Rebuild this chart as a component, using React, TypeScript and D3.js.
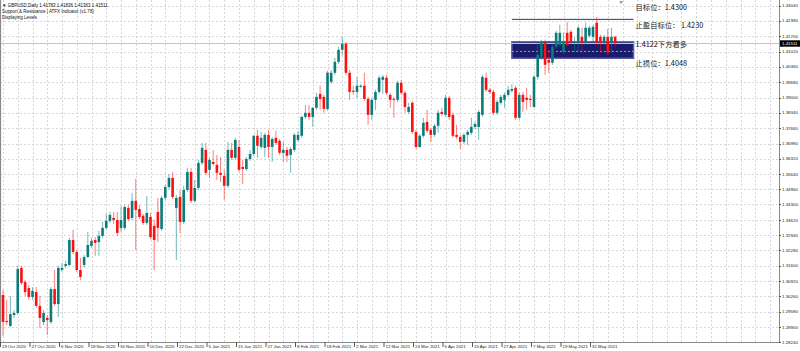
import React, { useRef, useEffect } from "react";
import * as d3 from "d3";

// GBPUSD daily candles (oldest first)
const opens = [
  1.3032, 1.2918, 1.2896, 1.2944, 1.2953, 1.3151, 1.3089, 1.3063, 1.3023, 1.3045,
  1.2984, 1.2913, 1.2931, 1.2913, 1.3058, 1.2992, 1.3142, 1.3160, 1.3164, 1.3274,
  1.3221, 1.3142, 1.3164, 1.3199, 1.3248, 1.3274, 1.3265, 1.3292, 1.3327, 1.3358,
  1.3371, 1.3362, 1.3327, 1.3327, 1.3415, 1.3371, 1.3446, 1.3410, 1.3380, 1.3349,
  1.3375, 1.3336, 1.3397, 1.3322, 1.3459, 1.3507, 1.3547, 1.3415, 1.3463, 1.3353,
  1.3494, 1.3573, 1.3446, 1.3503, 1.3613, 1.3670, 1.3582, 1.3617, 1.3604, 1.3569,
  1.3556, 1.3512, 1.3670, 1.3635, 1.3683, 1.3595, 1.3586, 1.3630, 1.3652, 1.3732,
  1.3683, 1.3679, 1.3736, 1.3683, 1.3723, 1.3710, 1.3657, 1.3670, 1.3648, 1.3670,
  1.3714, 1.3732, 1.3815, 1.3833, 1.3815, 1.3855, 1.3916, 1.3903, 1.3850, 1.3969,
  1.4009, 1.4057, 1.4110, 1.4136, 1.4009, 1.3930, 1.3925, 1.3947, 1.3952, 1.3894,
  1.3824, 1.3890, 1.3925, 1.3978, 1.3987, 1.3912, 1.3894, 1.3890, 1.3965, 1.3921,
  1.3837, 1.3877, 1.3749, 1.3683, 1.3732, 1.3793, 1.3758, 1.3736, 1.3776, 1.3837,
  1.3824, 1.3899, 1.3824, 1.3736, 1.3727, 1.3705, 1.3736, 1.3745, 1.3771, 1.3771,
  1.3824, 1.3987, 1.3934, 1.3925, 1.3833, 1.3877, 1.3890, 1.3912, 1.3930, 1.3943,
  1.3811, 1.3912, 1.3899, 1.3894, 1.3859, 1.3991, 1.4079, 1.4141, 1.4066, 1.4053,
  1.4123, 1.4132, 1.4101, 1.4185, 1.4189, 1.4141, 1.4141, 1.4167, 1.4141, 1.4172,
  1.4167, 1.4229, 1.4167, 1.4141, 1.4167, 1.4141, 1.4167,
];
const highs = [
  1.3054, 1.3010, 1.3028, 1.2966, 1.3160, 1.3160, 1.3098, 1.3076, 1.3067, 1.3067,
  1.3028, 1.2966, 1.2944, 1.3067, 1.3142, 1.3160, 1.3173, 1.3182, 1.3283, 1.3318,
  1.3230, 1.3195, 1.3208, 1.3309, 1.3283, 1.3287, 1.3314, 1.3353, 1.3388, 1.3397,
  1.3397, 1.3397, 1.3424, 1.3428, 1.3428, 1.3481, 1.3542, 1.3428, 1.3388, 1.3468,
  1.3393, 1.3362, 1.3459, 1.3468, 1.3516, 1.3564, 1.3573, 1.3472, 1.3494, 1.3512,
  1.3591, 1.3591, 1.3538, 1.3626, 1.3701, 1.3701, 1.3635, 1.3670, 1.3648, 1.3639,
  1.3582, 1.3705, 1.3701, 1.3723, 1.3714, 1.3626, 1.3639, 1.3670, 1.3736, 1.3758,
  1.3749, 1.3745, 1.3758, 1.3727, 1.3754, 1.3718, 1.3705, 1.3683, 1.3683, 1.3745,
  1.3754, 1.3820, 1.3868, 1.3868, 1.3859, 1.3921, 1.3952, 1.3912, 1.4018, 1.4022,
  1.4075, 1.4123, 1.4167, 1.4145, 1.4022, 1.3952, 1.3991, 1.3960, 1.4009, 1.3903,
  1.3899, 1.3934, 1.3996, 1.4000, 1.4000, 1.3921, 1.3903, 1.3974, 1.3978, 1.3930,
  1.3877, 1.3886, 1.3758, 1.3740, 1.3811, 1.3846, 1.3767, 1.3784, 1.3846, 1.3855,
  1.3912, 1.3908, 1.3833, 1.3780, 1.3736, 1.3745, 1.3758, 1.3811, 1.3793, 1.3846,
  1.4000, 1.4009, 1.3943, 1.3934, 1.3890, 1.3912, 1.3921, 1.3952, 1.3960, 1.3952,
  1.3921, 1.3925, 1.3943, 1.3912, 1.4000, 1.4141, 1.4154, 1.4154, 1.4110, 1.4132,
  1.4194, 1.4220, 1.4185, 1.4233, 1.4198, 1.4167, 1.4216, 1.4207, 1.4229, 1.4216,
  1.4220, 1.4255, 1.4176, 1.4176, 1.4202, 1.4207, 1.4172,
];
const lows = [
  1.2852, 1.2900, 1.2891, 1.2931, 1.2944, 1.3076, 1.3028, 1.3010, 1.3010, 1.2975,
  1.2887, 1.2900, 1.2856, 1.2904, 1.2984, 1.2935, 1.3133, 1.3151, 1.3160, 1.3212,
  1.3133, 1.3098, 1.3151, 1.3195, 1.3239, 1.3204, 1.3204, 1.3283, 1.3322, 1.3349,
  1.3344, 1.3292, 1.3309, 1.3318, 1.3358, 1.3362, 1.3230, 1.3366, 1.3340, 1.3340,
  1.3278, 1.3142, 1.3265, 1.3314, 1.3450, 1.3498, 1.3454, 1.3186, 1.3305, 1.3344,
  1.3485, 1.3437, 1.3437, 1.3494, 1.3604, 1.3560, 1.3547, 1.3600, 1.3538, 1.3529,
  1.3450, 1.3503, 1.3626, 1.3626, 1.3573, 1.3520, 1.3578, 1.3622, 1.3644, 1.3635,
  1.3674, 1.3639, 1.3635, 1.3617, 1.3692, 1.3648, 1.3617, 1.3617, 1.3569, 1.3661,
  1.3705, 1.3723, 1.3806, 1.3802, 1.3771, 1.3846, 1.3846, 1.3833, 1.3842, 1.3960,
  1.4000, 1.4048, 1.4084, 1.4000, 1.3890, 1.3912, 1.3899, 1.3943, 1.3886, 1.3780,
  1.3802, 1.3846, 1.3916, 1.3916, 1.3912, 1.3855, 1.3811, 1.3881, 1.3912, 1.3833,
  1.3828, 1.3740, 1.3674, 1.3679, 1.3723, 1.3745, 1.3705, 1.3727, 1.3745, 1.3820,
  1.3815, 1.3802, 1.3723, 1.3718, 1.3674, 1.3696, 1.3692, 1.3736, 1.3762, 1.3714,
  1.3815, 1.3925, 1.3916, 1.3824, 1.3824, 1.3868, 1.3855, 1.3903, 1.3921, 1.3802,
  1.3802, 1.3837, 1.3846, 1.3859, 1.3855, 1.3978, 1.4066, 1.4000, 1.4009, 1.4044,
  1.4114, 1.4123, 1.4092, 1.4123, 1.4136, 1.4097, 1.4101, 1.4097, 1.4132, 1.4163,
  1.4141, 1.4132, 1.4097, 1.4132, 1.4088, 1.4097, 1.4123,
];
const closes = [
  1.2913, 1.2913, 1.2948, 1.2953, 1.3146, 1.3085, 1.3045, 1.3023, 1.3050, 1.2984,
  1.2931, 1.2953, 1.2922, 1.3058, 1.2992, 1.3151, 1.3151, 1.3168, 1.3274, 1.3221,
  1.3142, 1.3111, 1.3199, 1.3252, 1.3270, 1.3261, 1.3292, 1.3327, 1.3358, 1.3384,
  1.3362, 1.3305, 1.3362, 1.3419, 1.3366, 1.3446, 1.3406, 1.3375, 1.3349, 1.3393,
  1.3287, 1.3274, 1.3327, 1.3459, 1.3507, 1.3547, 1.3463, 1.3459, 1.3353, 1.3494,
  1.3573, 1.3446, 1.3503, 1.3613, 1.3679, 1.3569, 1.3626, 1.3608, 1.3569, 1.3560,
  1.3512, 1.3670, 1.3635, 1.3714, 1.3582, 1.3586, 1.3630, 1.3652, 1.3732, 1.3688,
  1.3723, 1.3736, 1.3683, 1.3718, 1.3701, 1.3657, 1.3670, 1.3644, 1.3674, 1.3736,
  1.3736, 1.3815, 1.3833, 1.3815, 1.3855, 1.3903, 1.3894, 1.3850, 1.4009, 1.4009,
  1.4057, 1.4110, 1.4136, 1.4009, 1.3925, 1.3925, 1.3952, 1.3952, 1.3894, 1.3824,
  1.3890, 1.3925, 1.3987, 1.3991, 1.3921, 1.3890, 1.3890, 1.3965, 1.3921, 1.3859,
  1.3859, 1.3749, 1.3683, 1.3732, 1.3789, 1.3754, 1.3736, 1.3776, 1.3833, 1.3828,
  1.3899, 1.3815, 1.3732, 1.3727, 1.3705, 1.3736, 1.3749, 1.3771, 1.3784, 1.3837,
  1.3991, 1.3934, 1.3925, 1.3833, 1.3881, 1.3903, 1.3912, 1.3934, 1.3938, 1.3811,
  1.3912, 1.3881, 1.3890, 1.3890, 1.3991, 1.4088, 1.4145, 1.4044, 1.4053, 1.4123,
  1.4185, 1.4185, 1.4145, 1.4132, 1.4145, 1.4145, 1.4207, 1.4141, 1.4207, 1.4207,
  1.4211, 1.4141, 1.4141, 1.4167, 1.4097, 1.4167, 1.4139,
];

// bottom axis: bar index of each date label
const dateBars = [0, 8, 16, 24, 32, 40, 48, 56, 64, 72, 80, 88, 96, 104, 112, 120, 128, 136, 144, 152, 160];
const dateLabels = [
  "19 Oct 2020", "27 Oct 2020", "6 Nov 2020", "18 Nov 2020", "30 Nov 2020", "10 Dec 2020",
  "22 Dec 2020", "5 Jan 2021", "15 Jan 2021", "27 Jan 2021", "8 Feb 2021", "18 Feb 2021",
  "2 Mar 2021", "12 Mar 2021", "24 Mar 2021", "5 Apr 2021", "15 Apr 2021", "27 Apr 2021",
  "7 May 2021", "19 May 2021", "31 May 2021",
];

// right axis price labels
const priceTicks = [
  1.2824, 1.289, 1.2958, 1.3026, 1.3092, 1.316, 1.3228, 1.3294, 1.3362, 1.343, 1.3496, 1.3564,
  1.3632, 1.3698, 1.3766, 1.3834, 1.39, 1.3968, 1.4036, 1.4102, 1.417, 1.4238, 1.4304,
];

const headerLines = [
  "▼ GBPUSD,Daily  1.41783 1.41836 1.41363 1.41511",
  "Support & Resistance | ATFX Indicator (v1.78)",
  "Displaying Levels",
];
const bidText = "1.41511";

// user drawn levels
const levelStartBar = 138;
const levelEndBar = 171;
const targetLevel = 1.4244;
const zoneTop = 1.4145;
const zoneMid = 1.4103;
const zoneBottom = 1.4073;
const levelTexts = ["目标位：", "止盈目标位： ", "下方看多", "止损位："];
const levelValues = ["1.4300", "1.4230", "1.4122", "1.4048"];

function App() {
  const svgRef = useRef(null);
  const width = 800;
  const height = 351;
  const plotRight = 779;
  const plotBottom = 342;

  useEffect(() => {
    const svg = d3.select(svgRef.current);
    svg.selectAll("*").remove();

    const x = d3.scaleLinear().domain([0, 160]).range([3, 593]);
    const y = d3.scaleLinear().domain([1.2824, 1.4304]).range([342.3, 5.7]);
    const font = "'Liberation Sans', Arial, sans-serif";
    const teal = "#0a7d7b";
    const red = "#ff1010";

    svg.append("rect").attr("width", width).attr("height", height).attr("fill", "#fff");

    // grid
    const grid = svg.append("g").attr("stroke", "#d6d6d6").attr("stroke-dasharray", "2,2");
    const vBars = d3.range(0, 211, 4).filter(i => x(i) < plotRight);
    grid.selectAll("line.v").data(vBars).join("line")
      .attr("x1", d => Math.round(x(d)) + 0.5).attr("x2", d => Math.round(x(d)) + 0.5)
      .attr("y1", 0).attr("y2", plotBottom);
    grid.selectAll("line.h").data(priceTicks).join("line")
      .attr("x1", 0).attr("x2", plotRight)
      .attr("y1", d => Math.round(y(d)) + 0.5).attr("y2", d => Math.round(y(d)) + 0.5);

    // levels drawn on the chart (behind candles)
    const lv = svg.append("g");
    lv.append("rect")
      .attr("x", x(levelStartBar)).attr("width", x(levelEndBar) - x(levelStartBar))
      .attr("y", y(zoneTop)).attr("height", y(zoneBottom) - y(zoneTop))
      .attr("fill", "#1b1b6b").attr("stroke", "#5b5ba8").attr("stroke-width", 1.5);
    lv.append("line")
      .attr("x1", x(levelStartBar)).attr("x2", x(levelEndBar))
      .attr("y1", y(zoneMid)).attr("y2", y(zoneMid))
      .attr("stroke", "#9a9ad6").attr("stroke-dasharray", "2,2");
    lv.append("line")
      .attr("x1", x(levelStartBar)).attr("x2", x(levelEndBar))
      .attr("y1", y(targetLevel)).attr("y2", y(targetLevel))
      .attr("stroke", "#2b3478").attr("stroke-width", 1);

    // bid line
    const last = closes.length - 1;
    const bidY = Math.round(y(closes[last])) + 0.5;
    svg.append("line").attr("x1", 0).attr("x2", plotRight).attr("y1", bidY).attr("y2", bidY)
      .attr("stroke", "#c4c4c4");

    // candles
    const bars = d3.range(closes.length);
    const cg = svg.append("g");
    cg.selectAll("line").data(bars).join("line")
      .attr("x1", i => x(i)).attr("x2", i => x(i))
      .attr("y1", i => y(highs[i])).attr("y2", i => y(lows[i]))
      .attr("stroke", i => (closes[i] >= opens[i] ? teal : red))
      .attr("stroke-opacity", 0.55).attr("stroke-width", 1);
    cg.selectAll("rect").data(bars).join("rect")
      .attr("x", i => x(i) - 1.3).attr("width", 2.6)
      .attr("y", i => y(Math.max(opens[i], closes[i])))
      .attr("height", i => Math.max(1, Math.abs(y(opens[i]) - y(closes[i]))))
      .attr("fill", i => (closes[i] >= opens[i] ? teal : red));

    // level texts
    const tx = x(levelEndBar) + 2;
    const texts = svg.append("g").attr("font-family", "'Noto Sans CJK SC', sans-serif")
      .attr("font-size", 7.3).attr("fill", "#222");
    const tys = [y(targetLevel) - 9, y(targetLevel) + 8.5, y(zoneTop) + 5.5, y(zoneBottom) + 8];
    levelTexts.forEach((t, k) => {
      const el = texts.append("text").attr("x", tx).attr("y", tys[k]);
      if (k === 2) {
        el.append("tspan").attr("fill", "#111").text(levelValues[k]);
        el.append("tspan").text(t);
      } else {
        el.append("tspan").text(t);
        el.append("tspan").attr("fill", "#111").text(levelValues[k]);
      }
    });

    // frame
    svg.append("line").attr("x1", 0.5).attr("x2", 0.5).attr("y1", 0).attr("y2", plotBottom)
      .attr("stroke", "#8a8a8a").attr("stroke-width", 1.2);
    svg.append("line").attr("x1", plotRight + 0.5).attr("x2", plotRight + 0.5).attr("y1", 0).attr("y2", plotBottom + 1)
      .attr("stroke", "#8a8a8a");
    svg.append("line").attr("x1", 0).attr("x2", plotRight).attr("y1", plotBottom + 0.5).attr("y2", plotBottom + 0.5)
      .attr("stroke", "#8a8a8a");

    // shift marker
    svg.append("path").attr("d", d3.symbol(d3.symbolTriangle, 6)())
      .attr("transform", `translate(${x(last) + 6},2) rotate(180)`).attr("fill", "#9a9a9a");

    // right axis
    const ra = svg.append("g").attr("font-family", font).attr("font-size", 4.4).attr("fill", "#222");
    ra.selectAll("line").data(priceTicks).join("line")
      .attr("x1", plotRight).attr("x2", plotRight + 2)
      .attr("y1", d => Math.round(y(d)) + 0.5).attr("y2", d => Math.round(y(d)) + 0.5)
      .attr("stroke", "#555");
    ra.selectAll("text").data(priceTicks).join("text")
      .attr("x", plotRight + 3).attr("y", d => y(d) + 1.6)
      .text(d => d.toFixed(5));

    // bid label
    svg.append("rect").attr("x", plotRight + 1).attr("y", bidY - 3.2).attr("width", width - plotRight - 1).attr("height", 6.4)
      .attr("fill", "#000");
    svg.append("text").attr("x", plotRight + 3).attr("y", bidY + 1.6).attr("font-family", font)
      .attr("font-size", 4.4).attr("fill", "#fff").text(bidText);

    // bottom axis
    const ba = svg.append("g").attr("font-family", font).attr("font-size", 4.4).attr("fill", "#222");
    ba.selectAll("line").data(dateBars).join("line")
      .attr("x1", d => x(d) - 2.5).attr("x2", d => x(d) - 2.5)
      .attr("y1", plotBottom).attr("y2", plotBottom + 5)
      .attr("stroke", "#555");
    ba.selectAll("text").data(dateBars).join("text")
      .attr("x", (d, k) => (k === 0 ? 2 : x(d) - 1)).attr("y", plotBottom + 6)
      .text((d, k) => dateLabels[k]);

    // header
    svg.append("g").attr("font-family", font).attr("font-size", 4.5).attr("fill", "#111")
      .selectAll("text").data(headerLines).join("text")
      .attr("x", 2).attr("y", (d, k) => 7.2 + k * 5.8).text(d => d);
  }, []);

  return (
    <svg ref={svgRef} width={width} height={height}
      style={{ position: "absolute", left: 0, top: 0, display: "block" }} />
  );
}

export default App;
